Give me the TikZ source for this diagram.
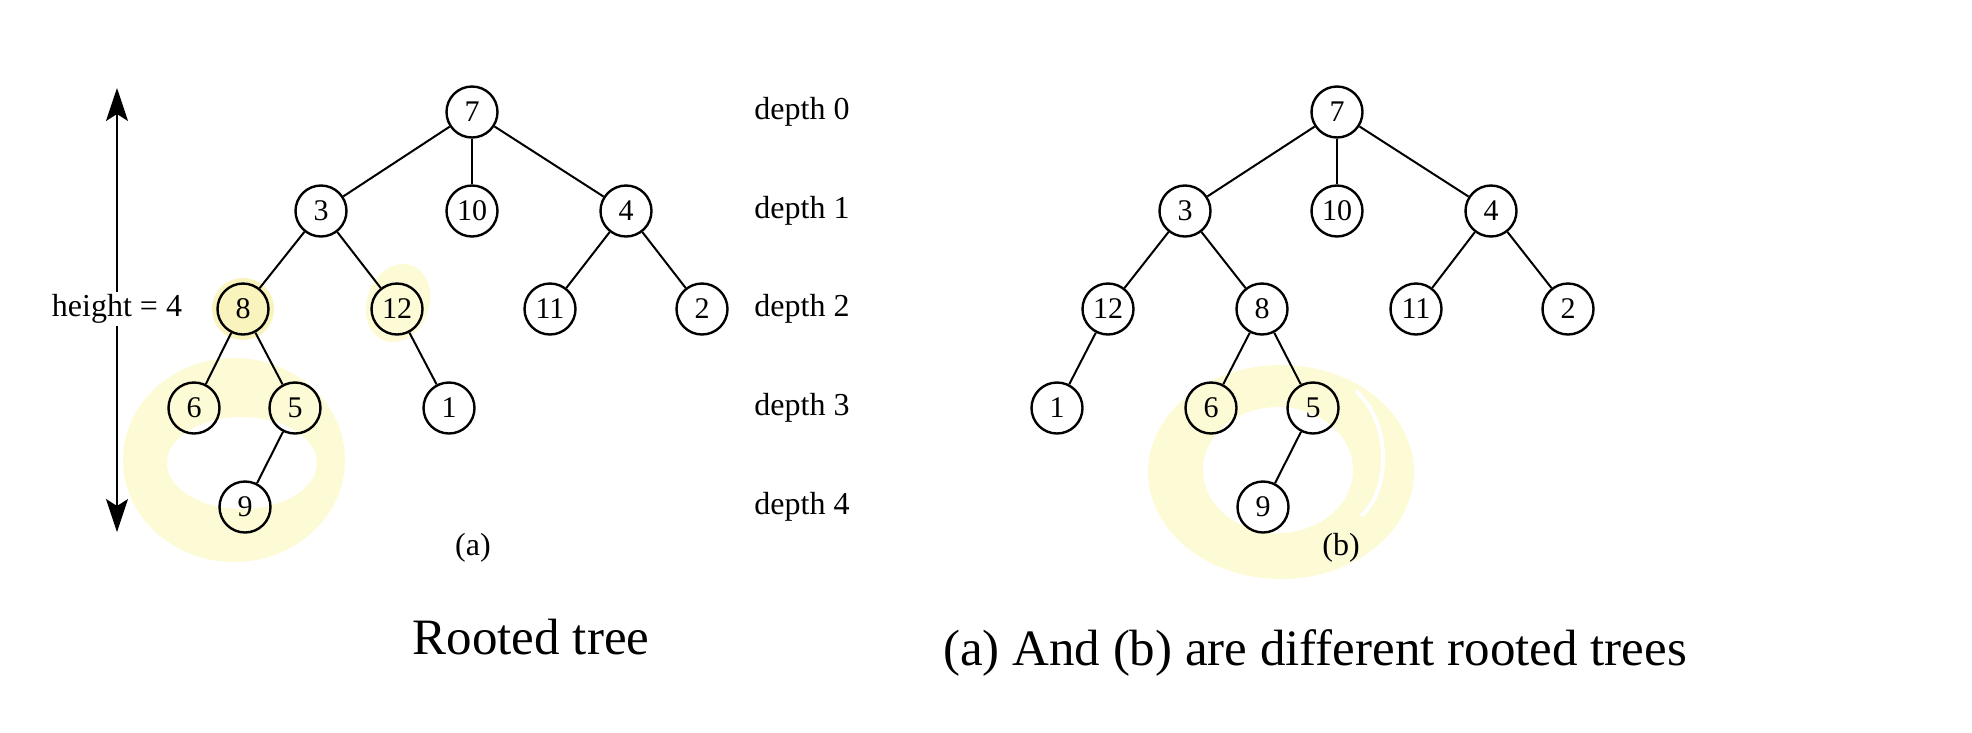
\documentclass[tikz,border=0pt]{standalone}
\usepackage{fontspec}
\setmainfont{Liberation Serif}
\usepackage{tikz}
\usetikzlibrary{arrows.meta,positioning}
\definecolor{hlyellow}{RGB}{253,250,214}
\definecolor{nodeyellow}{RGB}{249,243,190}

\begin{document}
\begin{tikzpicture}[
    x=1pt, y=-1pt,
    vertex/.style={circle, draw, line width=2.4pt, minimum size=51pt, inner sep=0pt, font=\fontsize{30}{30}\selectfont},
    hlvertex/.style={vertex, fill=nodeyellow},
    edge/.style={line width=2pt},
    lbl/.style={font=\fontsize{32}{36}\selectfont, text height=22pt, text depth=7pt, inner sep=2pt},
    caption/.style={font=\fontsize{51}{56}\selectfont, anchor=base},
    harrow/.style={-{Stealth[length=33pt, width=22pt, inset=7pt]}, line width=1.6pt}
]
\useasboundingbox (0,0) rectangle (1972,732);

% Highlighter marks
\fill[hlyellow, even odd rule] (234,460) ellipse [x radius=111pt, y radius=102pt]
    (242,463) ellipse [x radius=75pt, y radius=46pt];
\fill[nodeyellow] (243,309) circle [radius=31pt];
\fill[hlyellow, rotate around={-20:(398,303)}] (398,303) ellipse [x radius=31pt, y radius=40pt];
\fill[hlyellow, even odd rule] (1281,472) ellipse [x radius=133pt, y radius=107pt]
    (1278,470) ellipse [x radius=75pt, y radius=63pt];
\draw[white, line width=4pt, line cap=round] (1357,392) .. controls (1392,425) and (1390,490) .. (1362,515);

% Tree (a)
\node[vertex] (a7) at (472,112) {7};
\node[vertex] (a3) at (321,211) {3};
\node[vertex] (a10) at (472,211) {10};
\node[vertex] (a4) at (626,211) {4};
\node[hlvertex] (a8) at (243,309) {8};
\node[vertex] (a12) at (397,309) {12};
\node[vertex] (a11) at (550,309) {11};
\node[vertex] (a2) at (702,309) {2};
\node[vertex] (a6) at (194,408) {6};
\node[vertex] (a5) at (295,408) {5};
\node[vertex] (a1) at (449,408) {1};
\node[vertex] (a9) at (245,507) {9};

\draw[edge] (a7) -- (a3);
\draw[edge] (a7) -- (a10);
\draw[edge] (a7) -- (a4);
\draw[edge] (a3) -- (a8);
\draw[edge] (a3) -- (a12);
\draw[edge] (a4) -- (a11);
\draw[edge] (a4) -- (a2);
\draw[edge] (a8) -- (a6);
\draw[edge] (a8) -- (a5);
\draw[edge] (a12) -- (a1);
\draw[edge] (a5) -- (a9);

\node[lbl] (la) at (473,548) {(a)};

% Height arrow
\node[lbl] (hgt) at (117,309) {height = 4};
\coordinate (htop) at (117,88);
\coordinate (hbot) at (117,532);
\draw[harrow] (hgt) -- (htop);
\draw[harrow] (hgt) -- (hbot);

% Depth labels
\node[lbl] (d0) at (802,112) {depth 0};
\node[lbl] (d1) at (802,211) {depth 1};
\node[lbl] (d2) at (802,309) {depth 2};
\node[lbl] (d3) at (802,408) {depth 3};
\node[lbl] (d4) at (802,507) {depth 4};

% Tree (b)
\node[vertex] (b7) at (1337,112) {7};
\node[vertex] (b3) at (1185,211) {3};
\node[vertex] (b10) at (1337,211) {10};
\node[vertex] (b4) at (1491,211) {4};
\node[vertex] (b12) at (1108,309) {12};
\node[vertex] (b8) at (1262,309) {8};
\node[vertex] (b11) at (1416,309) {11};
\node[vertex] (b2) at (1568,309) {2};
\node[vertex] (b1) at (1057,408) {1};
\node[vertex] (b6) at (1211,408) {6};
\node[vertex] (b5) at (1313,408) {5};
\node[vertex] (b9) at (1263,507) {9};

\draw[edge] (b7) -- (b3);
\draw[edge] (b7) -- (b10);
\draw[edge] (b7) -- (b4);
\draw[edge] (b3) -- (b12);
\draw[edge] (b3) -- (b8);
\draw[edge] (b4) -- (b11);
\draw[edge] (b4) -- (b2);
\draw[edge] (b12) -- (b1);
\draw[edge] (b8) -- (b6);
\draw[edge] (b8) -- (b5);
\draw[edge] (b5) -- (b9);

\node[lbl] (lb) at (1341,548) {(b)};

% Captions
\node[caption] (capa) at (531,654) {Rooted tree};
\node[caption] (capb) at (1315,665) {(a) And (b) are different rooted trees};

\end{tikzpicture}
\end{document}
